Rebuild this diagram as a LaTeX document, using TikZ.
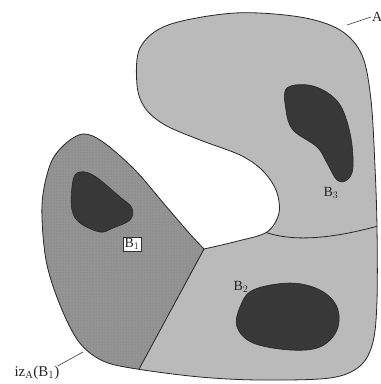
\documentclass[tikz,border=0pt]{standalone}
\usepackage{fontspec}
\setmainfont{Liberation Serif}
\usetikzlibrary{patterns}
\begin{document}
\begin{tikzpicture}[x=1pt,y=-1pt,
  outline/.style={draw=black!85,line width=0.8pt},
  blob/.style={fill=black!78,draw=black!85,line width=0.6pt},
  lbl/.style={font=\fontsize{14}{16}\selectfont,text=black!85,inner sep=1pt},
  leader/.style={draw=black!80,line width=0.6pt}]
\useasboundingbox (0,0) rectangle (381,384);
\def\Apath{plot[smooth,tension=0.55] coordinates {
 (204,249) (238,241) (267,232) (279,213) (276,190) (262,170) (240,155) (200,140)
 (165,125) (145,108) (137,85)
 (140,48) (168,25) (235,13) (300,17) (340,30) (362,55) (371,100) (375,167)
 (377,227) (377,300) (373,342) (360,366) (330,378) (260,380) (200,377)
 (137,369) (103,361) (79,342) (60,305) (46,260) (42,205) (50,165)
 (64,145) (83,134) (103,142) (135,170) (165,205) (190,234) (204,249)} -- cycle}
% region A (light)
\fill[black!27] \Apath;
% region iz_A(B1) (darker, dotted)
\begin{scope}
  \clip \Apath;
  \clip (0,110) -- (100,110) -- (200,230) -- (204.5,249) -- (131,384) -- (0,384) -- cycle;
  \fill[black!42] (0,0) rectangle (381,384);
  \fill[pattern=dots,pattern color=black!52] (0,0) rectangle (381,384);
\end{scope}
% boundaries between regions
\begin{scope}
  \clip \Apath;
  \draw[outline] (204,249) coordinate (b1t) -- (131,384) coordinate (b1b);
  \draw[outline] (262,231) coordinate (b3l) .. controls (290,242) and (330,240) .. (385,224) coordinate (b3r);
\end{scope}
\draw[outline,line join=round] \Apath;
% dark blobs
\draw[blob] plot[smooth cycle,tension=0.6] coordinates {
 (287,88) (313,86) (338,102) (350,133) (353,167) (347,180) (337,180)
 (327,163) (317,147) (293,130) (286,110)};
\draw[blob] plot[smooth cycle,tension=0.6] coordinates {
 (77,173) (93,175) (120,197) (132,208) (130,220) (113,228) (100,232)
 (80,223) (72,210) (72,187)};
\draw[blob] plot[smooth cycle,tension=0.6] coordinates {
 (253,290) (290,283) (320,290) (337,307) (337,330) (320,347) (290,350)
 (253,343) (237,327) (240,307)};
% labels
\node[lbl] (lB3) at (331,193) {B$_3$};
\node[lbl] (lB2) at (241,287) {B$_2$};
\node[lbl,fill=white,draw=black!80,line width=0.4pt,inner sep=1.5pt] (lB1) at (132,244) {B$_1$};
\node[lbl,anchor=west] (lA) at (371,17) {A};
\coordinate (aA) at (347,25);
\draw[leader] (aA) -- (lA.west);
\node[lbl,font=\fontsize{15}{17}\selectfont] (liz) at (37,373) {iz$_{\mathrm{A}}$(B$_1$)};
\coordinate (aiz) at (83,352);
\draw[leader] (liz.north east) ++(-3,1) -- (aiz);
\end{tikzpicture}
\end{document}
